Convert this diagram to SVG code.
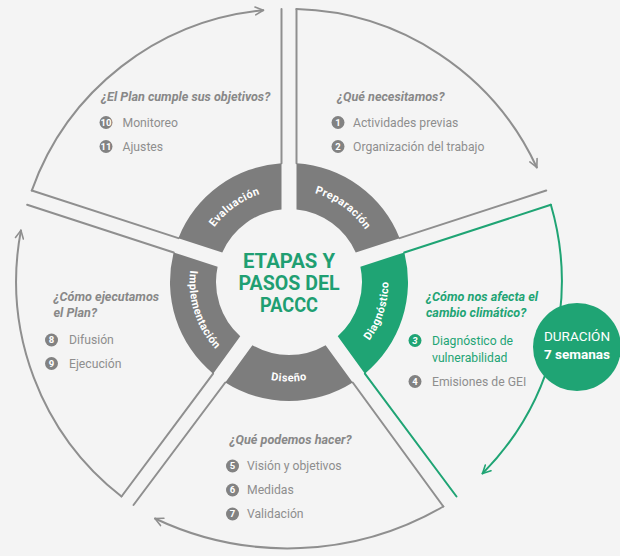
<svg xmlns="http://www.w3.org/2000/svg" width="620" height="556" viewBox="0 0 620 556">
<defs>
<marker id="ag" viewBox="0 0 10 10" refX="9" refY="5" markerWidth="10" markerHeight="10" markerUnits="userSpaceOnUse" orient="auto"><path d="M1,1 L9,5 L1,9" fill="none" stroke="#8f8f8f" stroke-width="1.6" stroke-linecap="round" stroke-linejoin="round"/></marker>
<marker id="agr" viewBox="0 0 10 10" refX="9" refY="5" markerWidth="10" markerHeight="10" markerUnits="userSpaceOnUse" orient="auto"><path d="M1,1 L9,5 L1,9" fill="none" stroke="#1fa474" stroke-width="1.6" stroke-linecap="round" stroke-linejoin="round"/></marker>
<path id="tp-eval" d="M202.08,250.36 A92.5,92.5 0 0 1 285.77,189.56"/>
<path id="tp-prep" d="M292.23,189.56 A92.5,92.5 0 0 1 375.92,250.36"/>
<path id="tp-diag" d="M350.26,360.41 A99.5,99.5 0 0 0 384.65,254.57"/>
<path id="tp-dis" d="M227.74,360.41 A99.5,99.5 0 0 0 350.26,360.41"/>
<path id="tp-impl" d="M193.35,254.57 A99.5,99.5 0 0 0 227.74,360.41"/>
</defs>
<style>
.ol{fill:none;stroke:#8f8f8f;stroke-width:2;stroke-linecap:round}
.olg{fill:none;stroke:#1fa474;stroke-width:2;stroke-linecap:round}
.seg{fill:#7d7d7d}
.segg{fill:#1fa474}
.lbl{font-family:Roboto,"Liberation Sans",sans-serif;font-size:11px;font-weight:bold;fill:#ffffff;letter-spacing:0.4px}
.q{font-family:Roboto,"Liberation Sans",sans-serif;font-size:12.6px;font-weight:bold;font-style:italic;fill:#888888}
.qg{font-family:Roboto,"Liberation Sans",sans-serif;font-size:12.6px;font-weight:bold;font-style:italic;fill:#1fa474}
.it{font-family:Roboto,"Liberation Sans",sans-serif;font-size:12.2px;fill:#8e8e8e}
.itg{font-family:Roboto,"Liberation Sans",sans-serif;font-size:12.2px;fill:#1fa474}
.nc{fill:#828282}
.ncg{fill:#1fa474}
.nt{font-family:Roboto,"Liberation Sans",sans-serif;font-size:9.5px;font-weight:bold;fill:#ffffff;text-anchor:middle}
.title{font-family:Roboto,"Liberation Sans",sans-serif;font-size:21px;font-weight:bold;fill:#1f9f72;text-anchor:middle}
.dur{font-family:Roboto,"Liberation Sans",sans-serif;font-size:13.5px;fill:#ffffff;text-anchor:middle}
</style>
<rect width="620" height="556" fill="#f4f4f4"/>

<g id="connectors">
<path class="ol" d="M31.78,190.54 A273,273 0 0 1 263.31,10.21" marker-end="url(#ag)"/>
<path class="ol" d="M296.5,9.1 A273,273 0 0 1 536.82,167.49" marker-end="url(#ag)"/>
<path class="olg" d="M550.86,204.8 A273,273 0 0 1 482.5,473.5" marker-end="url(#agr)"/>
<path class="ol" d="M443.34,506.5 A310,310 0 0 1 155,518.5" marker-end="url(#ag)"/>
<path class="ol" d="M121.5,496.5 A273,273 0 0 1 20.93,230.38" marker-end="url(#ag)"/>
</g>

<g id="evaluacion">
<path class="ol" d="M281.5,163.24 L281.5,9.1"/>
<path class="ol" d="M178.37,238.17 L31.78,190.54"/>
<path class="seg" d="M178.37,238.17 A119,119 0 0 1 281.5,163.24 L281.5,209.39 A73,73 0 0 0 222.26,252.43 Z"/>
<text class="lbl"><textPath href="#tp-eval" startOffset="50%" text-anchor="middle">Evaluación</textPath></text>
<text class="q" x="101" y="100.5">¿El Plan cumple sus objetivos?</text>
<circle class="nc" cx="106" cy="122.5" r="6.5"/><text class="nt" x="106" y="125.8">10</text>
<text class="it" x="122.5" y="126.8">Monitoreo</text>
<circle class="nc" cx="106" cy="146.5" r="6.5"/><text class="nt" x="106" y="149.8">11</text>
<text class="it" x="122.5" y="150.8">Ajustes</text>
</g>

<g id="preparacion">
<path class="ol" d="M399.63,238.17 L546.22,190.54"/>
<path class="ol" d="M296.5,163.24 L296.5,9.1"/>
<path class="seg" d="M296.5,163.24 A119,119 0 0 1 399.63,238.17 L355.74,252.43 A73,73 0 0 0 296.5,209.39 Z"/>
<text class="lbl"><textPath href="#tp-prep" startOffset="50%" text-anchor="middle">Preparación</textPath></text>
<text class="q" x="337" y="100.5">¿Qué necesitamos?</text>
<circle class="nc" cx="338" cy="122.5" r="6.5"/><text class="nt" x="338" y="125.8">1</text>
<text class="it" x="353" y="126.8">Actividades previas</text>
<circle class="nc" cx="338" cy="146.5" r="6.5"/><text class="nt" x="338" y="149.8">2</text>
<text class="it" x="353" y="150.8">Organización del trabajo</text>
</g>

<g id="diagnostico">
<path class="olg" d="M404.27,252.43 L550.86,204.8"/>
<path class="olg" d="M364.88,373.67 L456.5,496.5"/>
<path class="segg" d="M404.27,252.43 A119,119 0 0 1 364.88,373.67 L337.75,336.33 A73,73 0 0 0 360.38,266.69 Z"/>
<text class="lbl"><textPath href="#tp-diag" startOffset="50%" text-anchor="middle">Diagnóstico</textPath></text>
<text class="qg" x="426" y="300.5">¿Cómo nos afecta el</text>
<text class="qg" x="426" y="316.5">cambio climático?</text>
<circle class="ncg" cx="415" cy="340.5" r="6.5"/><text class="nt" x="415" y="343.8" font-style="italic">3</text>
<text class="itg" x="432" y="344.8">Diagnóstico de</text>
<text class="itg" x="432" y="362.3">vulnerabilidad</text>
<circle class="nc" cx="415" cy="381.5" r="6.5"/><text class="nt" x="415" y="384.8">4</text>
<text class="it" x="432" y="385.8">Emisiones de GEI</text>
</g>

<g id="diseno">
<path class="ol" d="M352.74,382.49 L443.34,506.5"/>
<path class="ol" d="M225.26,382.49 L133.5,505"/>
<path class="seg" d="M352.74,382.49 A119,119 0 0 1 225.26,382.49 L252.39,345.15 A73,73 0 0 0 325.61,345.15 Z"/>
<text class="lbl"><textPath href="#tp-dis" startOffset="50%" text-anchor="middle">Diseño</textPath></text>
<text class="q" x="229.5" y="443.5">¿Qué podemos hacer?</text>
<circle class="nc" cx="232.5" cy="466" r="6.5"/><text class="nt" x="232.5" y="469.3">5</text>
<text class="it" x="247" y="470.3">Visión y objetivos</text>
<circle class="nc" cx="232.5" cy="490" r="6.5"/><text class="nt" x="232.5" y="493.3">6</text>
<text class="it" x="247" y="494.3">Medidas</text>
<circle class="nc" cx="232.5" cy="514" r="6.5"/><text class="nt" x="232.5" y="517.3">7</text>
<text class="it" x="247" y="518.3">Validación</text>
</g>

<g id="implementacion">
<path class="ol" d="M213.12,373.67 L121.5,496.5"/>
<path class="ol" d="M173.73,252.43 L27.14,204.8"/>
<path class="seg" d="M213.12,373.67 A119,119 0 0 1 173.73,252.43 L217.62,266.69 A73,73 0 0 0 240.25,336.33 Z"/>
<text class="lbl"><textPath href="#tp-impl" startOffset="50%" text-anchor="middle">Implementación</textPath></text>
<text class="q" x="53.5" y="300.5">¿Cómo ejecutamos</text>
<text class="q" x="53.5" y="316.5">el Plan?</text>
<circle class="nc" cx="51.5" cy="340" r="6.5"/><text class="nt" x="51.5" y="343.3">8</text>
<text class="it" x="69" y="344.3">Difusión</text>
<circle class="nc" cx="51.5" cy="363.5" r="6.5"/><text class="nt" x="51.5" y="366.8">9</text>
<text class="it" x="69" y="367.8">Ejecución</text>
</g>

<g id="centro">
<text class="title" x="289" y="268" textLength="92" lengthAdjust="spacingAndGlyphs">ETAPAS Y</text>
<text class="title" x="289" y="290" textLength="101" lengthAdjust="spacingAndGlyphs">PASOS DEL</text>
<text class="title" x="289" y="312" textLength="58" lengthAdjust="spacingAndGlyphs">PACCC</text>
</g>

<g id="duracion">
<circle cx="577" cy="347" r="44" fill="#1fa474"/>
<text class="dur" x="577" y="340.5">DURACIÓN</text>
<text class="dur" x="577" y="358.5" font-weight="bold">7 semanas</text>
</g>
</svg>
